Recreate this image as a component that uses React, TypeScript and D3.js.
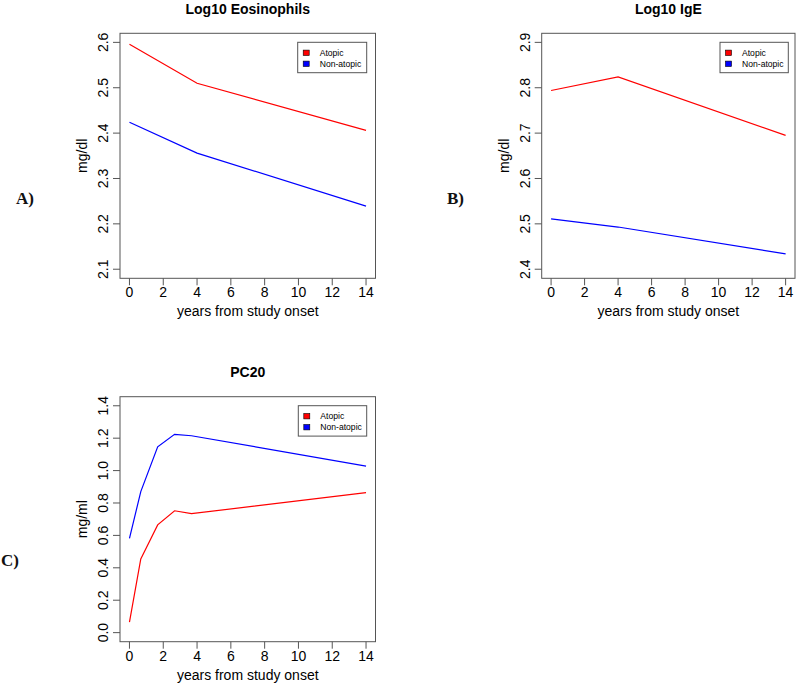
import React from "react";
import * as d3 from "d3";

const years = [0, 4, 14];
const eosAtopic = [2.596, 2.51, 2.406];
const eosNonAtopic = [2.424, 2.356, 2.239];
const igeAtopic = [2.794, 2.824, 2.695];
const igeNonAtopic = [2.511, 2.493, 2.434];
const yearsPC20 = [0, 0.67, 1.67, 2.67, 3.67, 14];
const pc20Atopic = [0.065, 0.455, 0.665, 0.752, 0.734, 0.864];
const pc20NonAtopic = [0.582, 0.87, 1.147, 1.224, 1.215, 1.028];

const xTicks = [0, 2, 4, 6, 8, 10, 12, 14];
const eosTicks = [2.1, 2.2, 2.3, 2.4, 2.5, 2.6];
const igeTicks = [2.4, 2.5, 2.6, 2.7, 2.8, 2.9];
const pc20Ticks = [0, 0.2, 0.4, 0.6, 0.8, 1.0, 1.2, 1.4];
const seriesNames = ["Atopic", "Non-atopic"];
const seriesColors = ["#ff0000", "#0000ff"];

type PanelProps = {
  left: number;
  top: number;
  width: number;
  height: number;
  title: string;
  ylabel: string;
  xs: number[];
  ys: number[][];
  yDomain: [number, number];
  yTicks: number[];
  legendX: number;
  legendW: number;
  letter: string;
  letterX: number;
  letterY: number;
};

const FONT = "Liberation Sans, Arial, Helvetica, sans-serif";

function Panel(p: PanelProps) {
  const right = p.left + p.width;
  const bottom = p.top + p.height;
  const xr = 14;
  const x = d3
    .scaleLinear()
    .domain([0 - 0.04 * xr, 14 + 0.04 * xr])
    .range([p.left, right]);
  const yr = p.yDomain[1] - p.yDomain[0];
  const y = d3
    .scaleLinear()
    .domain([p.yDomain[0] - 0.04 * yr, p.yDomain[1] + 0.04 * yr])
    .range([bottom, p.top]);
  const line = d3
    .line<[number, number]>()
    .x((d) => x(d[0]))
    .y((d) => y(d[1]));
  const fmt = d3.format(".1f");
  const cx = (p.left + right) / 2;
  const cy = (p.top + bottom) / 2;
  const lt = p.top + 9;
  return (
    <g>
      <text
        x={p.letterX}
        y={p.letterY}
        fontFamily="Liberation Serif, DejaVu Serif, serif"
        fontSize={17}
        fontWeight="bold"
        fill="#111"
      >
        {p.letter}
      </text>
      <text
        x={cx}
        y={p.top - 19.8}
        textAnchor="middle"
        fontFamily={FONT}
        fontWeight="bold"
        fontSize={14}
        fill="#000"
      >
        {p.title}
      </text>
      <rect
        x={p.left}
        y={p.top}
        width={p.width}
        height={p.height}
        fill="none"
        stroke="#555"
        strokeWidth={1}
      />
      {p.ys.map((vals, i) => (
        <path
          key={i}
          d={line(p.xs.map((xv, j) => [xv, vals[j]] as [number, number])) || ""}
          fill="none"
          stroke={seriesColors[i]}
          strokeWidth={1.2}
        />
      ))}
      {xTicks.map((t) => (
        <g key={"x" + t}>
          <line x1={x(t)} x2={x(t)} y1={bottom} y2={bottom + 7} stroke="#555" />
          <text
            x={x(t)}
            y={bottom + 19}
            textAnchor="middle"
            fontFamily={FONT}
            fontSize={14}
            fill="#000"
          >
            {t}
          </text>
        </g>
      ))}
      {p.yTicks.map((t) => (
        <g key={"y" + t}>
          <line x1={p.left - 7} x2={p.left} y1={y(t)} y2={y(t)} stroke="#555" />
          <text
            transform={`translate(${p.left - 12},${y(t)}) rotate(-90)`}
            textAnchor="middle"
            fontFamily={FONT}
            fontSize={14}
            fill="#000"
          >
            {fmt(t)}
          </text>
        </g>
      ))}
      <text
        x={cx}
        y={bottom + 38}
        textAnchor="middle"
        fontFamily={FONT}
        fontSize={14}
        fill="#000"
      >
        years from study onset
      </text>
      <text
        transform={`translate(${p.left - 33},${cy}) rotate(-90)`}
        textAnchor="middle"
        fontFamily={FONT}
        fontSize={14}
        fill="#000"
      >
        {p.ylabel}
      </text>
      <rect
        x={p.legendX}
        y={lt}
        width={p.legendW}
        height={30.4}
        fill="#fff"
        stroke="#555"
        strokeWidth={1}
      />
      {seriesNames.map((n, i) => (
        <g key={n}>
          <rect
            x={p.legendX + 5.5}
            y={lt + 7.8 + i * 11}
            width={6}
            height={5.4}
            fill={seriesColors[i]}
            stroke="#000"
            strokeWidth={0.6}
          />
          <text
            x={p.legendX + 22}
            y={lt + 13.5 + i * 11}
            fontFamily={FONT}
            fontSize={8.6}
            fill="#000"
          >
            {n}
          </text>
        </g>
      ))}
    </g>
  );
}

export default function App() {
  return (
    <svg
      width={800}
      height={686}
      style={{ position: "absolute", left: 0, top: 0, background: "#fff" }}
    >
      <rect x={0} y={0} width={800} height={686} fill="#fff" />
      <Panel
        left={120}
        top={33.3}
        width={255.5}
        height={245}
        title="Log10 Eosinophils"
        ylabel="mg/dl"
        xs={years}
        ys={[eosAtopic, eosNonAtopic]}
        yDomain={[2.1, 2.6]}
        yTicks={eosTicks}
        legendX={297.7}
        legendW={69}
        letter="A)"
        letterX={16}
        letterY={204}
      />
      <Panel
        left={541.7}
        top={33.3}
        width={253.3}
        height={245}
        title="Log10 IgE"
        ylabel="mg/dl"
        xs={years}
        ys={[igeAtopic, igeNonAtopic]}
        yDomain={[2.4, 2.9]}
        yTicks={igeTicks}
        legendX={720}
        legendW={68.3}
        letter="B)"
        letterX={447}
        letterY={204}
      />
      <Panel
        left={120}
        top={396.7}
        width={255.5}
        height={245}
        title="PC20"
        ylabel="mg/ml"
        xs={yearsPC20}
        ys={[pc20Atopic, pc20NonAtopic]}
        yDomain={[0, 1.4]}
        yTicks={pc20Ticks}
        legendX={298.3}
        legendW={68.4}
        letter="C)"
        letterX={1}
        letterY={566}
      />
    </svg>
  );
}
